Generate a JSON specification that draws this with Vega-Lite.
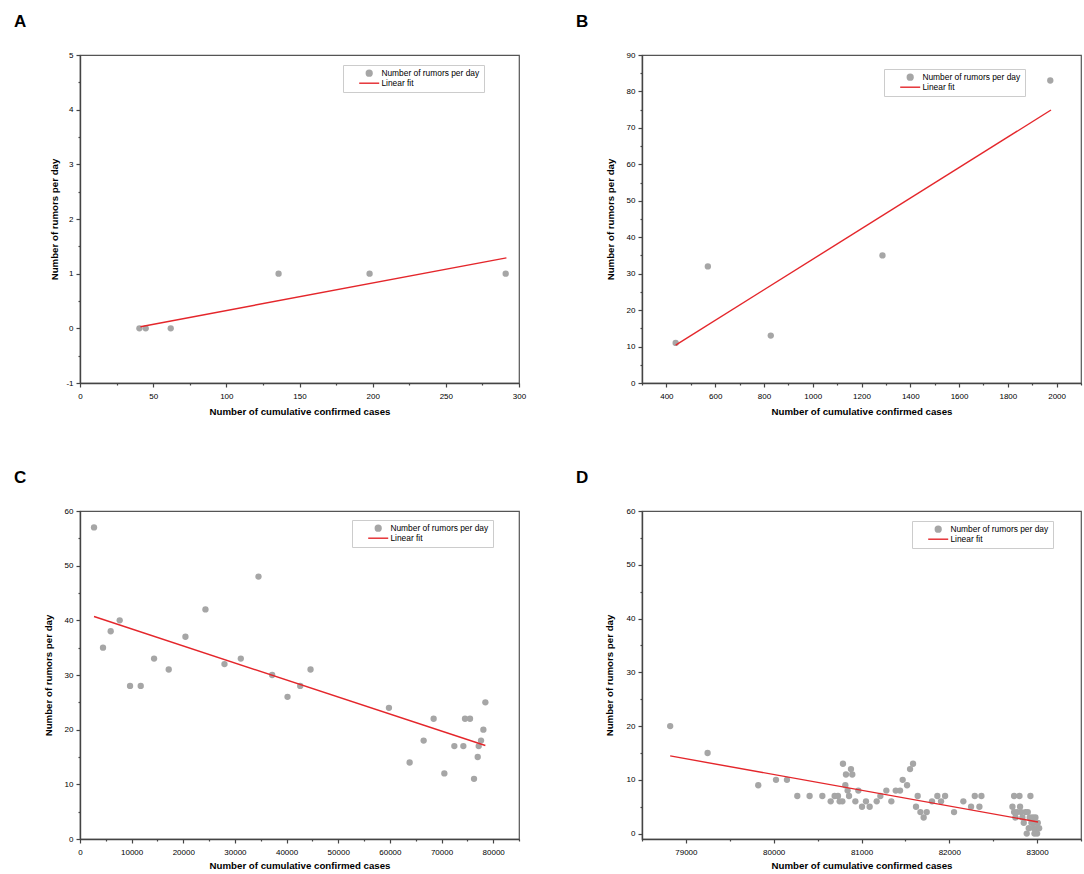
{
  "$schema": "https://vega.github.io/schema/vega-lite/v6.json",
  "background": "white",
  "padding": {"left": 13, "top": 12, "right": 4, "bottom": 4},
  "datasets": {
    "a": [
      {"cases": 40.6, "rumors": 0}, {"cases": 44.9, "rumors": 0}, {"cases": 62, "rumors": 0},
      {"cases": 135.7, "rumors": 1}, {"cases": 197.9, "rumors": 1}, {"cases": 290.9, "rumors": 1}
    ],
    "aFit": [{"cases": 41.3, "rumors": 0.03}, {"cases": 291.4, "rumors": 1.29}],
    "b": [
      {"cases": 438, "rumors": 11}, {"cases": 570, "rumors": 32}, {"cases": 828, "rumors": 13},
      {"cases": 1286, "rumors": 35}, {"cases": 1974, "rumors": 83}
    ],
    "bFit": [{"cases": 438, "rumors": 10.4}, {"cases": 1977, "rumors": 74.9}],
    "c": [
      {"cases": 2713, "rumors": 57}, {"cases": 4457, "rumors": 35}, {"cases": 5943, "rumors": 38},
      {"cases": 7687, "rumors": 40}, {"cases": 9690, "rumors": 28}, {"cases": 11757, "rumors": 28},
      {"cases": 14341, "rumors": 33}, {"cases": 17183, "rumors": 31}, {"cases": 20413, "rumors": 37},
      {"cases": 24289, "rumors": 42}, {"cases": 27972, "rumors": 32}, {"cases": 31137, "rumors": 33},
      {"cases": 34561, "rumors": 48}, {"cases": 37209, "rumors": 30}, {"cases": 40181, "rumors": 26},
      {"cases": 42636, "rumors": 28}, {"cases": 44638, "rumors": 31}, {"cases": 59819, "rumors": 24},
      {"cases": 63824, "rumors": 14}, {"cases": 66537, "rumors": 18}, {"cases": 68475, "rumors": 22},
      {"cases": 70543, "rumors": 12}, {"cases": 72481, "rumors": 17}, {"cases": 74225, "rumors": 17},
      {"cases": 74548, "rumors": 22}, {"cases": 75517, "rumors": 22}, {"cases": 76292, "rumors": 11},
      {"cases": 77003, "rumors": 15}, {"cases": 77196, "rumors": 17}, {"cases": 77649, "rumors": 18},
      {"cases": 78101, "rumors": 20}, {"cases": 78488, "rumors": 25}
    ],
    "cFit": [{"cases": 2713, "rumors": 40.7}, {"cases": 78488, "rumors": 17.1}],
    "d": [
      {"cases": 78821, "rumors": 20}, {"cases": 79247, "rumors": 15}, {"cases": 79824, "rumors": 9},
      {"cases": 80026, "rumors": 10}, {"cases": 80151, "rumors": 10}, {"cases": 80269, "rumors": 7},
      {"cases": 80409, "rumors": 7}, {"cases": 80554, "rumors": 7}, {"cases": 80649, "rumors": 6},
      {"cases": 80694, "rumors": 7}, {"cases": 80732, "rumors": 7}, {"cases": 80751, "rumors": 6},
      {"cases": 80782, "rumors": 6}, {"cases": 80789, "rumors": 13}, {"cases": 80816, "rumors": 9},
      {"cases": 80823, "rumors": 11}, {"cases": 80842, "rumors": 8}, {"cases": 80858, "rumors": 7},
      {"cases": 80880, "rumors": 12}, {"cases": 80895, "rumors": 11}, {"cases": 80930, "rumors": 6},
      {"cases": 80964, "rumors": 8}, {"cases": 81006, "rumors": 5}, {"cases": 81051, "rumors": 6},
      {"cases": 81093, "rumors": 5}, {"cases": 81173, "rumors": 6}, {"cases": 81215, "rumors": 7},
      {"cases": 81283, "rumors": 8}, {"cases": 81340, "rumors": 6}, {"cases": 81390, "rumors": 8},
      {"cases": 81439, "rumors": 8}, {"cases": 81469, "rumors": 10}, {"cases": 81519, "rumors": 9},
      {"cases": 81553, "rumors": 12}, {"cases": 81587, "rumors": 13}, {"cases": 81621, "rumors": 5},
      {"cases": 81640, "rumors": 7}, {"cases": 81671, "rumors": 4}, {"cases": 81708, "rumors": 3},
      {"cases": 81743, "rumors": 4}, {"cases": 81803, "rumors": 6}, {"cases": 81864, "rumors": 7},
      {"cases": 81906, "rumors": 6}, {"cases": 81952, "rumors": 7}, {"cases": 82054, "rumors": 4},
      {"cases": 82160, "rumors": 6}, {"cases": 82248, "rumors": 5}, {"cases": 82290, "rumors": 7},
      {"cases": 82343, "rumors": 5}, {"cases": 82366, "rumors": 7}, {"cases": 82719, "rumors": 5},
      {"cases": 82738, "rumors": 7}, {"cases": 82738, "rumors": 4}, {"cases": 82753, "rumors": 3},
      {"cases": 82772, "rumors": 4}, {"cases": 82799, "rumors": 7}, {"cases": 82806, "rumors": 5},
      {"cases": 82818, "rumors": 4}, {"cases": 82833, "rumors": 3}, {"cases": 82848, "rumors": 2},
      {"cases": 82867, "rumors": 4}, {"cases": 82882, "rumors": 0}, {"cases": 82894, "rumors": 4},
      {"cases": 82905, "rumors": 1}, {"cases": 82916, "rumors": 3}, {"cases": 82924, "rumors": 7},
      {"cases": 82935, "rumors": 2}, {"cases": 82951, "rumors": 3}, {"cases": 82960, "rumors": 2},
      {"cases": 82962, "rumors": 1}, {"cases": 82970, "rumors": 0}, {"cases": 82981, "rumors": 3},
      {"cases": 82992, "rumors": 1}, {"cases": 83000, "rumors": 0}, {"cases": 83008, "rumors": 2},
      {"cases": 83023, "rumors": 1}
    ],
    "dFit": [{"cases": 78821, "rumors": 14.45}, {"cases": 83011, "rumors": 2.17}]
  },
  "columns": 2,
  "spacing": {"row": 128, "column": 123},
  "bounds": "flush",
  "concat": [
    {
      "width": 439, "height": 328,
      "title": {"text": "A"},
      "layer": [
        {
          "data": {"name": "a"},
          "mark": {"type": "point", "filled": true, "size": 40, "opacity": 1},
          "encoding": {
            "x": {"field": "cases", "type": "quantitative", "scale": {"domain": [0, 300], "nice": false, "zero": false},
                  "axis": {"values": [0, 50, 100, 150, 200, 250, 300], "title": "Number of cumulative confirmed cases"}},
            "y": {"field": "rumors", "type": "quantitative", "scale": {"domain": [-1, 5], "nice": false, "zero": false},
                  "axis": {"values": [-1, 0, 1, 2, 3, 4, 5], "title": "Number of rumors per day", "titlePadding": 6}},
            "color": {"datum": "Number of rumors per day",
                      "scale": {"domain": ["Number of rumors per day", "Linear fit"], "range": ["#a6a6a6", "#e4262b"]},
                      "legend": {"orient": "none", "legendX": 263, "legendY": 10,
                                 "encoding": {"symbols": {
                                   "shape": {"value": {"expr": "datum.value === 'Linear fit' ? 'stroke' : 'circle'"}},
                                   "size": {"value": {"expr": "datum.value === 'Linear fit' ? 400 : 34"}},
                                   "fill": {"value": {"expr": "datum.value === 'Linear fit' ? 'transparent' : '#a6a6a6'"}},
                                   "stroke": {"value": {"expr": "datum.value === 'Linear fit' ? '#e4262b' : 'transparent'"}},
                                   "strokeWidth": {"value": 1.4}, "opacity": {"value": 1}}}}}
          }
        },
        {
          "data": {"name": "aFit"},
          "mark": {"type": "line", "strokeWidth": 1.4},
          "encoding": {
            "x": {"field": "cases", "type": "quantitative",
                  "axis": {"orient": "bottom", "values": [25, 75, 125, 175, 225, 275], "labels": false, "domain": false, "tickSize": 2, "title": null}},
            "y": {"field": "rumors", "type": "quantitative",
                  "axis": {"orient": "left", "values": [-0.5, 0.5, 1.5, 2.5, 3.5, 4.5], "labels": false, "domain": false, "tickSize": 2, "title": null}},
            "color": {"datum": "Linear fit", "legend": null}
          }
        }
      ],
      "resolve": {"axis": {"x": "independent", "y": "independent"}}
    },
    {
      "width": 439, "height": 328,
      "title": {"text": "B"},
      "layer": [
        {
          "data": {"name": "b"},
          "mark": {"type": "point", "filled": true, "size": 40, "opacity": 1},
          "encoding": {
            "x": {"field": "cases", "type": "quantitative", "scale": {"domain": [300, 2100], "nice": false, "zero": false},
                  "axis": {"values": [400, 600, 800, 1000, 1200, 1400, 1600, 1800, 2000], "title": "Number of cumulative confirmed cases"}},
            "y": {"field": "rumors", "type": "quantitative", "scale": {"domain": [0, 90], "nice": false, "zero": false},
                  "axis": {"values": [0, 10, 20, 30, 40, 50, 60, 70, 80, 90], "title": "Number of rumors per day", "titlePadding": 11}},
            "color": {"datum": "Number of rumors per day",
                      "scale": {"domain": ["Number of rumors per day", "Linear fit"], "range": ["#a6a6a6", "#e4262b"]},
                      "legend": {"orient": "none", "legendX": 242, "legendY": 14,
                                 "encoding": {"symbols": {
                                   "shape": {"value": {"expr": "datum.value === 'Linear fit' ? 'stroke' : 'circle'"}},
                                   "size": {"value": {"expr": "datum.value === 'Linear fit' ? 400 : 34"}},
                                   "fill": {"value": {"expr": "datum.value === 'Linear fit' ? 'transparent' : '#a6a6a6'"}},
                                   "stroke": {"value": {"expr": "datum.value === 'Linear fit' ? '#e4262b' : 'transparent'"}},
                                   "strokeWidth": {"value": 1.4}, "opacity": {"value": 1}}}}}
          }
        },
        {
          "data": {"name": "bFit"},
          "mark": {"type": "line", "strokeWidth": 1.4},
          "encoding": {
            "x": {"field": "cases", "type": "quantitative",
                  "axis": {"orient": "bottom", "values": [300, 500, 700, 900, 1100, 1300, 1500, 1700, 1900, 2100], "labels": false, "domain": false, "tickSize": 2, "title": null}},
            "y": {"field": "rumors", "type": "quantitative",
                  "axis": {"orient": "left", "values": [5, 15, 25, 35, 45, 55, 65, 75, 85], "labels": false, "domain": false, "tickSize": 2, "title": null}},
            "color": {"datum": "Linear fit", "legend": null}
          }
        }
      ],
      "resolve": {"axis": {"x": "independent", "y": "independent"}}
    },
    {
      "width": 439, "height": 328,
      "title": {"text": "C"},
      "layer": [
        {
          "data": {"name": "c"},
          "mark": {"type": "point", "filled": true, "size": 40, "opacity": 1},
          "encoding": {
            "x": {"field": "cases", "type": "quantitative", "scale": {"domain": [0, 85000], "nice": false, "zero": false},
                  "axis": {"values": [0, 10000, 20000, 30000, 40000, 50000, 60000, 70000, 80000], "title": "Number of cumulative confirmed cases", "titlePadding": 4}},
            "y": {"field": "rumors", "type": "quantitative", "scale": {"domain": [0, 60], "nice": false, "zero": false},
                  "axis": {"values": [0, 10, 20, 30, 40, 50, 60], "title": "Number of rumors per day", "titlePadding": 11}},
            "color": {"datum": "Number of rumors per day",
                      "scale": {"domain": ["Number of rumors per day", "Linear fit"], "range": ["#a6a6a6", "#e4262b"]},
                      "legend": {"orient": "none", "legendX": 272, "legendY": 9,
                                 "encoding": {"symbols": {
                                   "shape": {"value": {"expr": "datum.value === 'Linear fit' ? 'stroke' : 'circle'"}},
                                   "size": {"value": {"expr": "datum.value === 'Linear fit' ? 400 : 34"}},
                                   "fill": {"value": {"expr": "datum.value === 'Linear fit' ? 'transparent' : '#a6a6a6'"}},
                                   "stroke": {"value": {"expr": "datum.value === 'Linear fit' ? '#e4262b' : 'transparent'"}},
                                   "strokeWidth": {"value": 1.4}, "opacity": {"value": 1}}}}}
          }
        },
        {
          "data": {"name": "cFit"},
          "mark": {"type": "line", "strokeWidth": 1.4},
          "encoding": {
            "x": {"field": "cases", "type": "quantitative",
                  "axis": {"orient": "bottom", "values": [5000, 15000, 25000, 35000, 45000, 55000, 65000, 75000, 85000], "labels": false, "domain": false, "tickSize": 2, "title": null}},
            "y": {"field": "rumors", "type": "quantitative",
                  "axis": {"orient": "left", "values": [5, 15, 25, 35, 45, 55], "labels": false, "domain": false, "tickSize": 2, "title": null}},
            "color": {"datum": "Linear fit", "legend": null}
          }
        }
      ],
      "resolve": {"axis": {"x": "independent", "y": "independent"}}
    },
    {
      "width": 439, "height": 328,
      "title": {"text": "D"},
      "layer": [
        {
          "data": {"name": "d"},
          "mark": {"type": "point", "filled": true, "size": 40, "opacity": 1},
          "encoding": {
            "x": {"field": "cases", "type": "quantitative", "scale": {"domain": [78500, 83500], "nice": false, "zero": false},
                  "axis": {"values": [79000, 80000, 81000, 82000, 83000], "title": "Number of cumulative confirmed cases", "titlePadding": 4}},
            "y": {"field": "rumors", "type": "quantitative", "scale": {"domain": [-1, 60], "nice": false, "zero": false},
                  "axis": {"values": [0, 10, 20, 30, 40, 50, 60], "title": "Number of rumors per day", "titlePadding": 12}},
            "color": {"datum": "Number of rumors per day",
                      "scale": {"domain": ["Number of rumors per day", "Linear fit"], "range": ["#a6a6a6", "#e4262b"]},
                      "legend": {"orient": "none", "legendX": 270, "legendY": 10,
                                 "encoding": {"symbols": {
                                   "shape": {"value": {"expr": "datum.value === 'Linear fit' ? 'stroke' : 'circle'"}},
                                   "size": {"value": {"expr": "datum.value === 'Linear fit' ? 400 : 34"}},
                                   "fill": {"value": {"expr": "datum.value === 'Linear fit' ? 'transparent' : '#a6a6a6'"}},
                                   "stroke": {"value": {"expr": "datum.value === 'Linear fit' ? '#e4262b' : 'transparent'"}},
                                   "strokeWidth": {"value": 1.4}, "opacity": {"value": 1}}}}}
          }
        },
        {
          "data": {"name": "dFit"},
          "mark": {"type": "line", "strokeWidth": 1.4},
          "encoding": {
            "x": {"field": "cases", "type": "quantitative",
                  "axis": {"orient": "bottom", "values": [78500, 79500, 80500, 81500, 82500, 83500], "labels": false, "domain": false, "tickSize": 2, "title": null}},
            "y": {"field": "rumors", "type": "quantitative",
                  "axis": {"orient": "left", "values": [5, 15, 25, 35, 45, 55], "labels": false, "domain": false, "tickSize": 2, "title": null}},
            "color": {"datum": "Linear fit", "legend": null}
          }
        }
      ],
      "resolve": {"axis": {"x": "independent", "y": "independent"}}
    }
  ],
  "resolve": {
    "scale": {"x": "independent", "y": "independent", "color": "independent"},
    "axis": {"x": "independent", "y": "independent"},
    "legend": {"color": "independent"}
  },
  "config": {
    "font": "Liberation Sans",
    "view": {"stroke": "#555555", "strokeWidth": 1.2},
    "axis": {
      "grid": false,
      "domainColor": "#444444", "domainWidth": 1.4,
      "tickColor": "#444444", "tickWidth": 1.2, "tickSize": 4,
      "labelFont": "Liberation Sans", "labelFontSize": 8, "labelColor": "#000000",
      "titleFont": "Liberation Sans", "titleFontSize": 9.7, "titleFontWeight": "bold", "titleColor": "#000000",
      "labelExpr": "'' + datum.value",
      "labelFlush": false, "labelOverlap": false
    },
    "axisX": {"labelPadding": 5, "titlePadding": 6},
    "axisY": {"labelPadding": 3, "titlePadding": 6},
    "legend": {
      "title": null,
      "strokeColor": "#cccccc",
      "padding": 4,
      "labelFont": "Liberation Sans",
      "labelFontSize": 8.4,
      "labelColor": "#000000",
      "labelExpr": "datum.label + '\u00a0\u00a0\u00a0\u00a0\u00a0\u00a0\u00a0\u00a0\u00a0\u00a0'",
      "symbolSize": 400,
      "symbolOffset": 18,
      "labelOffset": 8,
      "rowPadding": 0
    },
    "title": {
      "font": "Liberation Sans", "fontSize": 17, "fontWeight": "bold", "color": "#000000",
      "anchor": "start", "frame": "group", "dx": -66, "offset": 20
    }
  }
}
